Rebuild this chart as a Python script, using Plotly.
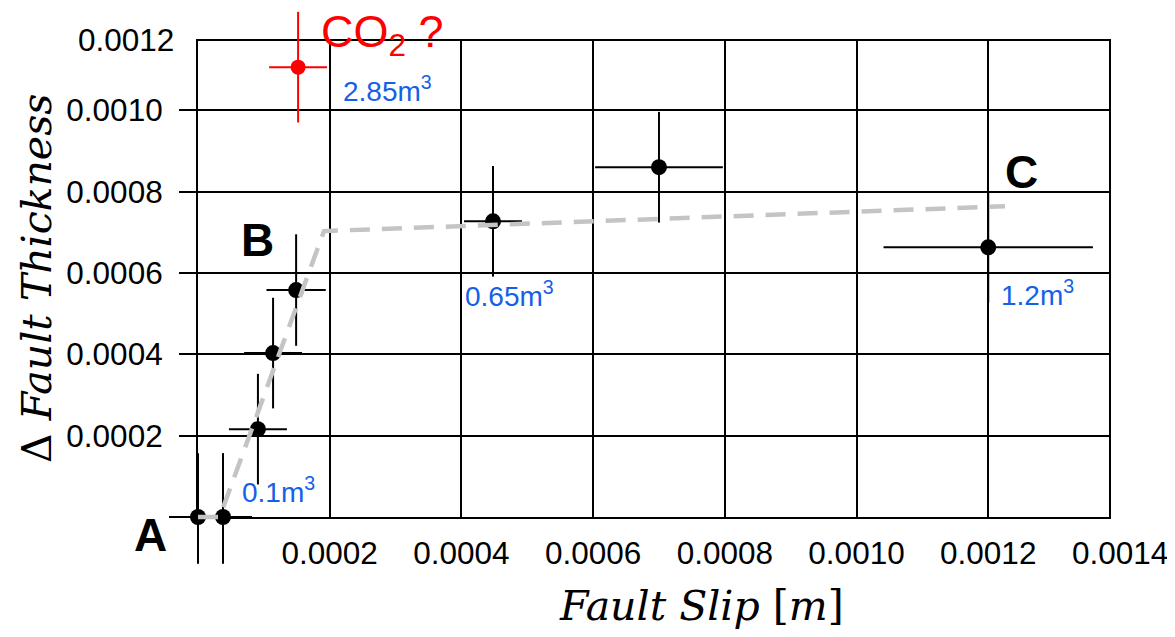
import plotly.graph_objects as go

# ---- data ----
slip = [0.0, 3.8e-5, 9.1e-5, 1.14e-4, 1.49e-4, 4.48e-4, 7.0e-4, 1.2e-3]
thick = [0.0, 0.0, 2.16e-4, 4.03e-4, 5.58e-4, 7.27e-4, 8.6e-4, 6.63e-4]
slip_err = [4.4e-5, 4.4e-5, 4.4e-5, 4.4e-5, 4.5e-5, 4.4e-5, 9.7e-5, 1.59e-4]
thick_err_up = [1.57e-4, 1.57e-4, 1.36e-4, 1.36e-4, 1.37e-4, 1.36e-4, 1.36e-4, 1.36e-4]
thick_err_dn = [1.15e-4, 1.15e-4, 1.36e-4, 1.36e-4, 1.37e-4, 1.36e-4, 1.36e-4, 1.36e-4]

co2_slip = [1.52e-4]
co2_thick = [1.106e-3]
co2_slip_err = [4.4e-5]
co2_thick_err = [1.36e-4]

trend_slip = [0.0, 3.3e-5, 1.913e-4, 1.2255e-3]
trend_thick = [0.0, 0.0, 7.03e-4, 7.64e-4]

x_ticks = [0.0002, 0.0004, 0.0006, 0.0008, 0.0010, 0.0012]
y_ticks = [0.0002, 0.0004, 0.0006, 0.0008, 0.0010]
x_extra_tick = 0.0014
y_extra_tick = "0.0012"

X_MAX = 0.0013834
Y_MAX = 0.0011703

volume_labels = ["0.1m<sup>3</sup>", "0.65m<sup>3</sup>", "1.2m<sup>3</sup>"]
volume_idx = [2, 5, 7]
volume_shift = [(-18, -61), (-30, -73), (11, -46)]

SANS = "Liberation Sans, Arial, sans-serif"
SERIF = "DejaVu Serif, serif"
BLUE = "#1560e8"
TICK_SIZE = 31.5

# ---- layout geometry (figure pixels; page body adds 8px offset) ----
OFF = 8
FIG_W, FIG_H = 1175 - 2 * OFF, 637 - 2 * OFF
L, R, T, B = 142, 1101, 0, 572          # full (overlay) plot area
ML, MR, MT, MB = 190, 1101, 33, 509      # main framed plot area
W, H = R - L, B - T
x_per_px = X_MAX / (MR - ML)
y_per_px = Y_MAX / (MB - MT)


def px(sx):
    return (sx - OFF - L) / W


def py(sy):
    return (B - (sy - OFF)) / H


fig = go.Figure()

# empty trace so the framed main subplot (grid, axes) is drawn
fig.add_trace(go.Scatter(x=[None], y=[None], xaxis="x", yaxis="y", mode="markers",
                         showlegend=False, hoverinfo="skip"))

fig.add_trace(go.Scatter(
    x=slip, y=thick, mode="markers", xaxis="x2", yaxis="y2",
    marker=dict(color="black", size=16),
    error_x=dict(type="data", array=slip_err, color="black", thickness=2, width=0),
    error_y=dict(type="data", array=thick_err_up, arrayminus=thick_err_dn,
                 symmetric=False, color="black", thickness=2, width=0),
    cliponaxis=False, showlegend=False))

fig.add_trace(go.Scatter(
    x=co2_slip, y=co2_thick, mode="markers", xaxis="x2", yaxis="y2",
    marker=dict(color="#ff0000", size=15),
    error_x=dict(type="data", array=co2_slip_err, color="#ff0000", thickness=2, width=0),
    error_y=dict(type="data", array=co2_thick_err, color="#ff0000", thickness=2, width=0),
    cliponaxis=False, showlegend=False))

fig.add_trace(go.Scatter(
    x=trend_slip, y=trend_thick, mode="lines", xaxis="x2", yaxis="y2",
    line=dict(color="#c4c4c4", width=4.5, dash="20px,12px"),
    showlegend=False))

ann = []
for lab, i, (dx, dy) in zip(volume_labels, volume_idx, volume_shift):
    ann.append(dict(x=slip[i], y=thick[i], xref="x2", yref="y2", text=lab,
                    showarrow=False, xanchor="left", yanchor="middle",
                    xshift=dx, yshift=dy, font=dict(family=SANS, size=28, color=BLUE)))
ann.append(dict(x=co2_slip[0], y=co2_thick[0], xref="x2", yref="y2",
                text="2.85m<sup>3</sup>", showarrow=False, xanchor="left",
                yanchor="middle", xshift=43, yshift=-22,
                font=dict(family=SANS, size=28, color=BLUE)))
ann.append(dict(x=co2_slip[0], y=co2_thick[0], xref="x2", yref="y2",
                text="CO<sub>2</sub> ?", showarrow=False, xanchor="left",
                yanchor="middle", xshift=21, yshift=33,
                font=dict(family=SANS, size=45, color="#ff0000")))
for lab, i, dx, dy in [("A", 0, -48, -18), ("B", 4, -39, 50), ("C", 7, 33, 75)]:
    ann.append(dict(x=slip[i], y=thick[i], xref="x2", yref="y2", text="<b>%s</b>" % lab,
                    showarrow=False, xanchor="center", yanchor="middle",
                    xshift=dx, yshift=dy, font=dict(family=SANS, size=46, color="black")))
# tick labels that fall outside the axis ranges
x14 = (ML + x_extra_tick / x_per_px - L) / W
ann.append(dict(x=x14, y=py(553), xref="paper", yref="paper",
                text="%.4f" % x_extra_tick, showarrow=False, xanchor="center",
                yanchor="middle", font=dict(family=SANS, size=TICK_SIZE, color="black")))
ann.append(dict(x=px(176), y=py(40), xref="paper", yref="paper", text=y_extra_tick,
                showarrow=False, xanchor="right", yanchor="middle",
                font=dict(family=SANS, size=TICK_SIZE, color="black")))
# axis titles
ann.append(dict(x=px(701), y=py(606), xref="paper", yref="paper",
                text="<i>Fault Slip</i> [<i>m</i>]", showarrow=False,
                xanchor="center", yanchor="middle",
                font=dict(family=SERIF, size=41, color="black")))
ann.append(dict(x=px(37), y=py(279), xref="paper", yref="paper",
                text="Δ <i>Fault Thickness</i>", showarrow=False, textangle=-90,
                xanchor="center", yanchor="middle",
                font=dict(family=SERIF, size=41, color="black")))

fig.update_layout(
    width=FIG_W, height=FIG_H,
    margin=dict(l=L, r=FIG_W - R, t=T, b=FIG_H - B, pad=0),
    paper_bgcolor="white", plot_bgcolor="rgba(0,0,0,0)",
    annotations=ann,
    xaxis=dict(domain=[(ML - L) / W, 1], range=[0, X_MAX], tickvals=x_ticks,
               ticktext=["%.4f" % v for v in x_ticks], anchor="y",
               showgrid=True, gridcolor="black", gridwidth=1.5,
               showline=True, linecolor="black", linewidth=2, mirror=True,
               ticks="", ticklabelstandoff=7, zeroline=False,
               tickfont=dict(family=SANS, size=TICK_SIZE, color="black")),
    yaxis=dict(domain=[(B - MB) / H, (B - MT) / H], range=[0, Y_MAX], tickvals=y_ticks,
               ticktext=["%.4f" % v for v in y_ticks], anchor="x",
               showgrid=True, gridcolor="black", gridwidth=1.5,
               showline=True, linecolor="black", linewidth=2, mirror=True,
               ticks="outside", ticklen=17, tickcolor="black", tickwidth=1.5,
               ticklabelstandoff=10, zeroline=False,
               tickfont=dict(family=SANS, size=TICK_SIZE, color="black")),
    xaxis2=dict(domain=[0, 1], anchor="y2", visible=False,
                range=[-(ML - L) * x_per_px, X_MAX]),
    yaxis2=dict(domain=[0, 1], anchor="x2", visible=False,
                range=[-(B - MB) * y_per_px, Y_MAX + (MT - T) * y_per_px]),
)

fig.write_html("out.html")
